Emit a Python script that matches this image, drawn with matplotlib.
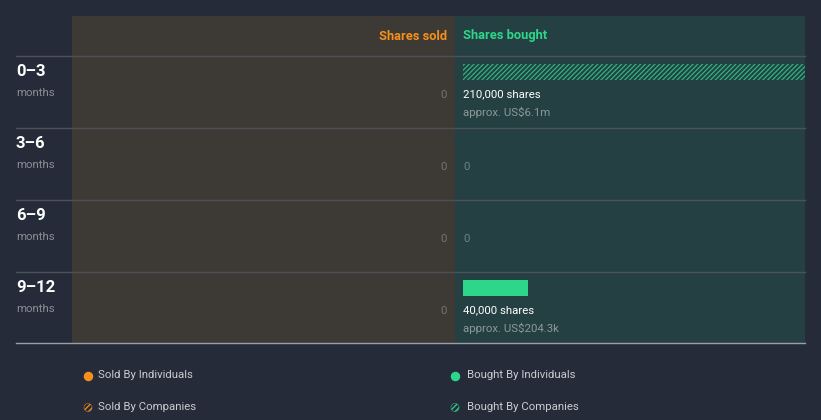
import matplotlib.pyplot as plt
from matplotlib.patches import Rectangle

plt.rcParams['font.family'] = ['Roboto', 'DejaVu Sans']
plt.rcParams['hatch.linewidth'] = 0.9

# data
periods = ['0–3', '3–6', '6–9', '9–12']
sold_individuals = [0, 0, 0, 0]
sold_companies = [0, 0, 0, 0]
bought_individuals = [0, 0, 0, 40000]
bought_companies = [210000, 0, 0, 0]
bought_value_text = ['approx. US$6.1m', '', '', 'approx. US$204.3k']

bg = '#252b38'
sold_bg = '#3d3935'
bought_bg = '#254042'
orange = '#f5901b'
green = '#2ed68b'

fig = plt.figure(figsize=(8.21, 4.2), dpi=100)
fig.patch.set_facecolor(bg)

# overlay axes in pixel coords for panels and text
ax = fig.add_axes([0, 0, 1, 1])
ax.set_xlim(0, 821)
ax.set_ylim(420, 0)
ax.axis('off')

ax.add_patch(Rectangle((72, 16), 383, 327, facecolor=sold_bg, edgecolor='none'))
ax.add_patch(Rectangle((455, 16), 350, 327, facecolor=bought_bg, edgecolor='none'))

ax.text(447, 36, 'Shares sold', ha='right', va='center', color=orange,
        fontsize=9.3, fontweight='bold')
ax.text(463, 36, 'Shares bought', ha='left', va='center', color=green,
        fontsize=9.3, fontweight='bold')

row_h = 72
for i, p in enumerate(periods):
    top = 56 + i * row_h
    ax.plot([16, 805], [top, top], color='#4d5057', lw=1)
    ax.text(16, top + 16, p, ha='left', va='center', color='white',
            fontsize=12, fontweight='bold')
    ax.text(16, top + 37, 'months', ha='left', va='center', color='#8a8e96', fontsize=8.2)

    sold = sold_individuals[i] + sold_companies[i]
    ax.text(447, top + 38.5, f'{sold:,}', ha='right', va='center', color='#75726e', fontsize=8.2)

    bought = bought_individuals[i] + bought_companies[i]
    if bought > 0:
        ax.text(463, top + 38.5, f'{bought:,} shares', ha='left', va='center',
                color='white', fontsize=8.2)
        ax.text(463, top + 56.5, bought_value_text[i], ha='left', va='center',
                color='#8a9a9a', fontsize=8.2)
    else:
        ax.text(463, top + 38.5, '0', ha='left', va='center', color='#6d8384', fontsize=8.2)

ax.plot([16, 805], [343, 343], color='#9a9ea6', lw=1)

# legend
leg_text = '#c9ccd2'
ax.scatter([88], [375.5], s=34, color=orange, zorder=3)
ax.text(98, 375.5, 'Sold By Individuals', ha='left', va='center', color=leg_text, fontsize=8.2)
ax.scatter([88], [407.5], s=34, facecolor=bg, edgecolor=orange, hatch='//////', lw=0.3, zorder=3)
ax.text(98, 407.5, 'Sold By Companies', ha='left', va='center', color=leg_text, fontsize=8.2)
ax.scatter([455], [375.5], s=34, color=green, zorder=3)
ax.text(467, 375.5, 'Bought By Individuals', ha='left', va='center', color=leg_text, fontsize=8.2)
ax.scatter([455], [407.5], s=34, facecolor=bg, edgecolor=green, hatch='//////', lw=0.3, zorder=3)
ax.text(467, 407.5, 'Bought By Companies', ha='left', va='center', color=leg_text, fontsize=8.2)

# bar axes for bought side: x 463..805 px, rows 56..344 px
W, H = 821, 420
bax = fig.add_axes([463 / W, 1 - 344 / H, (805 - 463) / W, 288 / H])
bax.patch.set_alpha(0)
bax.axis('off')
bax.set_xlim(0, max(bought_companies + bought_individuals))
bax.set_ylim(3.778, -0.222)
rows = list(range(len(periods)))
bax.barh(rows, bought_individuals, height=0.222, color=green, edgecolor='none')
bax.barh(rows, bought_companies, left=bought_individuals, height=0.222,
         color=bought_bg, edgecolor='#2cb57c', hatch='///////', lw=0)

fig.savefig('out.png', dpi=100, facecolor=bg)
